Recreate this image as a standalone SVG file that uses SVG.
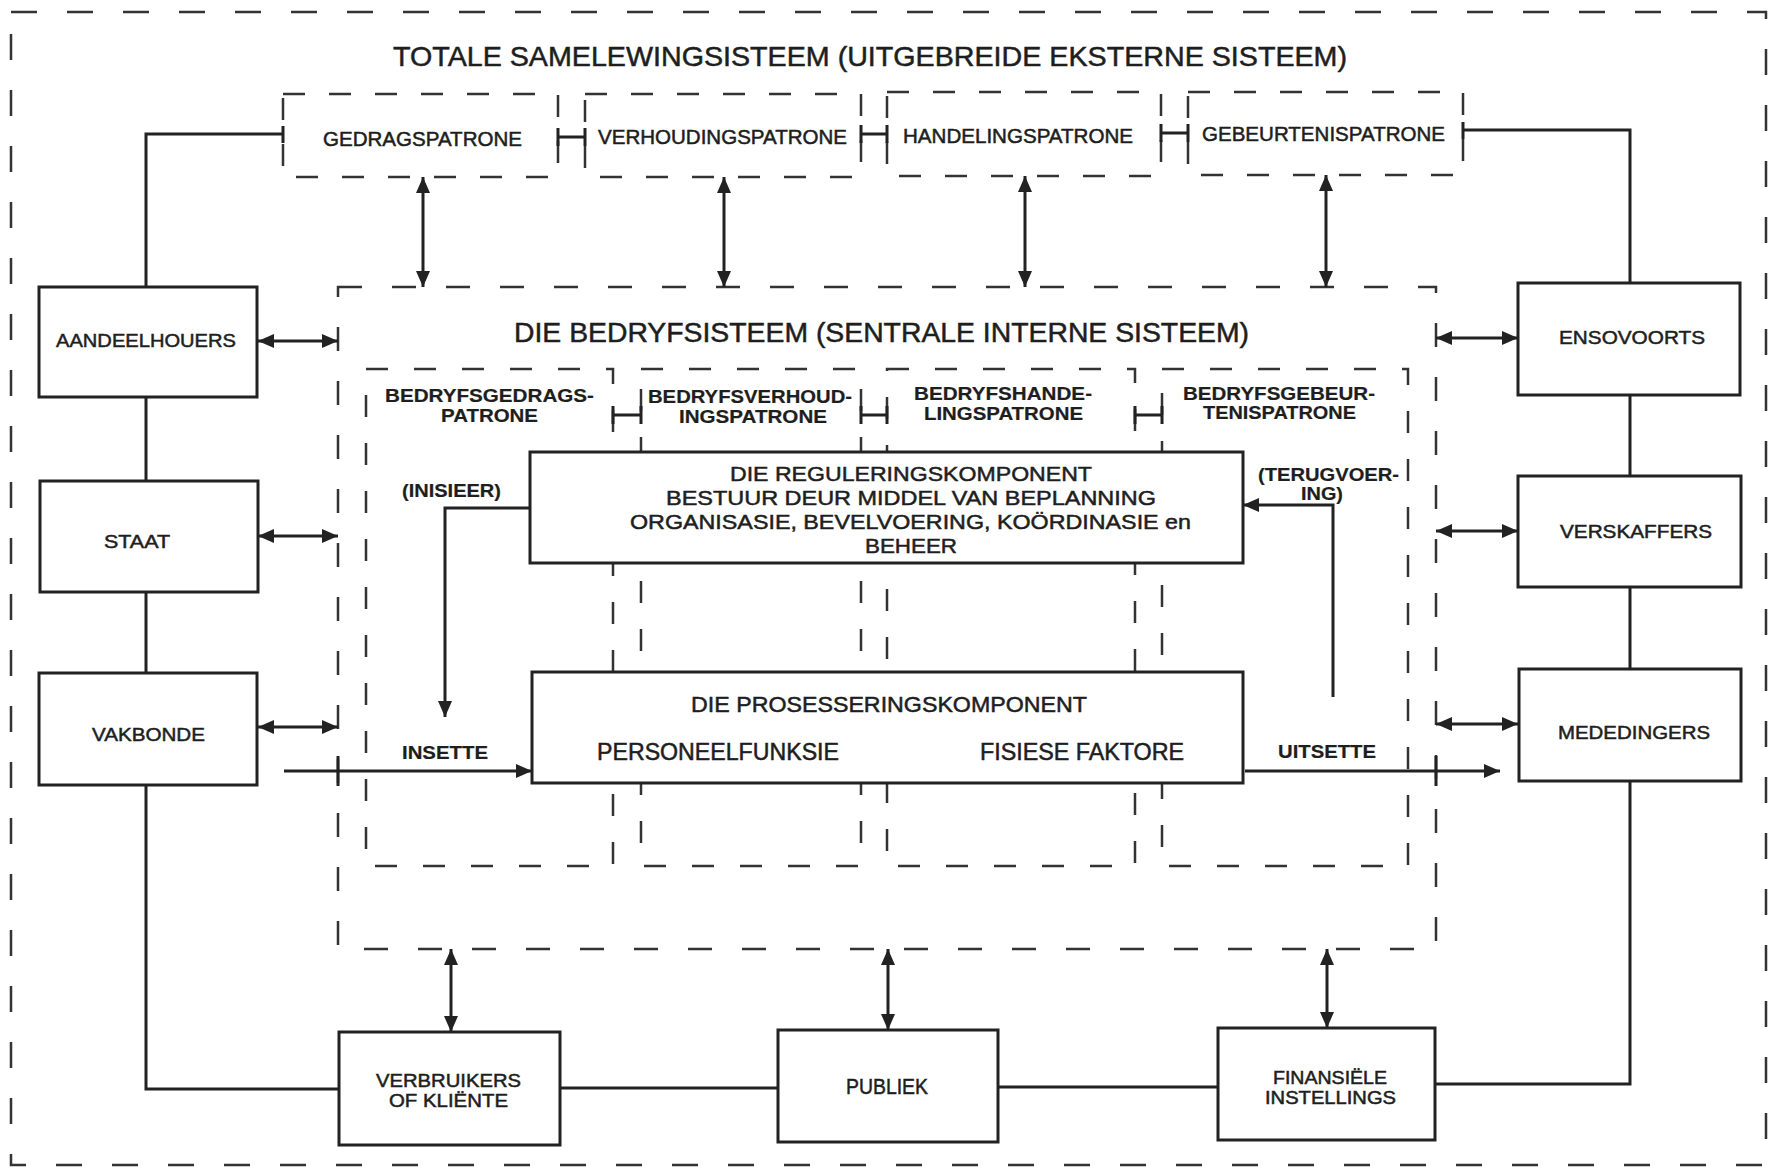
<svg xmlns="http://www.w3.org/2000/svg" width="1779" height="1169" viewBox="0 0 1779 1169">
<defs>
<marker id="ah" viewBox="0 0 16 14" refX="16" refY="7" markerWidth="16" markerHeight="14" markerUnits="userSpaceOnUse" orient="auto-start-reverse"><path d="M0,0 L16,7 L0,14 z" fill="#222"/></marker>
</defs>
<style>
.box{fill:#fff;stroke:#222;stroke-width:3}
.outer{fill:none;stroke:#333;stroke-width:2.5;stroke-dasharray:26 30}
.bed{fill:none;stroke:#333;stroke-width:2.5;stroke-dasharray:24 30}
.pat{fill:none;stroke:#333;stroke-width:2.5;stroke-dasharray:22 24}
.col{fill:none;stroke:#333;stroke-width:2.5;stroke-dasharray:22 26}
.ln{fill:none;stroke:#222;stroke-width:3}
.dbl{fill:none;stroke:#222;stroke-width:3;marker-start:url(#ah);marker-end:url(#ah)}
.one{fill:none;stroke:#222;stroke-width:3;marker-end:url(#ah)}
text{font-family:"Liberation Sans",Arial,sans-serif;fill:#1e1e1e;stroke:#1e1e1e;stroke-width:0.5}
.b{font-weight:bold;stroke-width:0.2}
</style>
<rect x="0" y="0" width="1779" height="1169" fill="#fff"/>

<g id="outer-system">
<rect class="outer" x="11" y="12" width="1755" height="1153"/>
<text x="393" y="66" font-size="28" textLength="954" lengthAdjust="spacingAndGlyphs">TOTALE SAMELEWINGSISTEEM (UITGEBREIDE EKSTERNE SISTEEM)</text>
</g>

<g id="bedryfsisteem">
<rect class="bed" x="338" y="287" width="1098" height="662"/>
<text x="514" y="342" font-size="28" textLength="735" lengthAdjust="spacingAndGlyphs">DIE BEDRYFSISTEEM (SENTRALE INTERNE SISTEEM)</text>
</g>

<g id="col-gedrag">
<rect class="col" x="366" y="369" width="247" height="497"/>
<text class="b" x="385" y="402" font-size="19" textLength="209" lengthAdjust="spacingAndGlyphs">BEDRYFSGEDRAGS-</text>
<text class="b" x="441" y="422" font-size="19" textLength="97" lengthAdjust="spacingAndGlyphs">PATRONE</text>
</g>
<g id="col-verhouding">
<rect class="col" x="641" y="369" width="220" height="497"/>
<text class="b" x="648" y="403" font-size="19" textLength="204" lengthAdjust="spacingAndGlyphs">BEDRYFSVERHOUD-</text>
<text class="b" x="679" y="423" font-size="19" textLength="148" lengthAdjust="spacingAndGlyphs">INGSPATRONE</text>
</g>
<g id="col-handeling">
<rect class="col" x="887" y="369" width="248" height="497"/>
<text class="b" x="914" y="400" font-size="19" textLength="178" lengthAdjust="spacingAndGlyphs">BEDRYFSHANDE-</text>
<text class="b" x="924" y="420" font-size="19" textLength="159" lengthAdjust="spacingAndGlyphs">LINGSPATRONE</text>
</g>
<g id="col-gebeurtenis">
<rect class="col" x="1162" y="369" width="246" height="497"/>
<text class="b" x="1183" y="400" font-size="19" textLength="192" lengthAdjust="spacingAndGlyphs">BEDRYFSGEBEUR-</text>
<text class="b" x="1203" y="419" font-size="19" textLength="153" lengthAdjust="spacingAndGlyphs">TENISPATRONE</text>
</g>

<g id="pat-gedrag">
<rect class="pat" x="283" y="94" width="275" height="83"/>
<text x="323" y="146" font-size="20" textLength="199" lengthAdjust="spacingAndGlyphs">GEDRAGSPATRONE</text>
</g>
<g id="pat-verhouding">
<rect class="pat" x="585" y="94" width="276" height="83"/>
<text x="598" y="144" font-size="20" textLength="249" lengthAdjust="spacingAndGlyphs">VERHOUDINGSPATRONE</text>
</g>
<g id="pat-handeling">
<rect class="pat" x="887" y="92" width="274" height="84"/>
<text x="903" y="143" font-size="20" textLength="230" lengthAdjust="spacingAndGlyphs">HANDELINGSPATRONE</text>
</g>
<g id="pat-gebeurtenis">
<rect class="pat" x="1188" y="92" width="275" height="83"/>
<text x="1202" y="141" font-size="20" textLength="243" lengthAdjust="spacingAndGlyphs">GEBEURTENISPATRONE</text>
</g>

<g id="connectors">
<path class="ln" d="M283,134 H146 V1089 H339"/>
<path class="ln" d="M1463,130 H1630 V1084 H1435"/>
<path class="ln" d="M560,1088 H778"/>
<path class="ln" d="M998,1087 H1218"/>
<path class="ln" d="M558,137 H585 M861,134 H887 M1161,133 H1188"/>
<path class="ln" d="M283,126 V143 M558,128 V146 M585,128 V146 M861,125 V143 M887,125 V143 M1161,124 V142 M1188,124 V142 M1463,122 V139"/>
<path class="ln" d="M613,415 H641 M861,415 H887 M1135,415 H1162"/>
<path class="ln" d="M613,406 V424 M641,406 V424 M861,406 V424 M887,406 V424 M1135,406 V424 M1162,406 V424"/>
<path class="dbl" d="M423,177 V287"/>
<path class="dbl" d="M724,177 V287"/>
<path class="dbl" d="M1025,176 V287"/>
<path class="dbl" d="M1326,175 V287"/>
<path class="dbl" d="M258,341 H338"/>
<path class="dbl" d="M258,536 H338"/>
<path class="dbl" d="M258,727 H338"/>
<path class="dbl" d="M1436,338 H1518"/>
<path class="dbl" d="M1436,531 H1518"/>
<path class="dbl" d="M1436,724 H1518"/>
<path class="dbl" d="M451,949 V1032"/>
<path class="dbl" d="M888,949 V1030"/>
<path class="dbl" d="M1327,949 V1028"/>
<path class="one" d="M530,508 H445 V717"/>
<path class="one" d="M1333,697 V505 H1243"/>
<path class="one" d="M284,771 H532"/>
<path class="one" d="M1245,771 H1500"/>
<path class="ln" d="M338,756 V786 M1436,756 V786"/>
</g>

<g id="labels">
<text class="b" x="402" y="497" font-size="19" textLength="99" lengthAdjust="spacingAndGlyphs">(INISIEER)</text>
<text class="b" x="1258" y="481" font-size="19" textLength="141" lengthAdjust="spacingAndGlyphs">(TERUGVOER-</text>
<text class="b" x="1301" y="500" font-size="19" textLength="42" lengthAdjust="spacingAndGlyphs">ING)</text>
<text class="b" x="402" y="759" font-size="19" textLength="86" lengthAdjust="spacingAndGlyphs">INSETTE</text>
<text class="b" x="1278" y="758" font-size="19" textLength="98" lengthAdjust="spacingAndGlyphs">UITSETTE</text>
</g>

<g id="regulering">
<rect class="box" x="530" y="452" width="713" height="111"/>
<text x="730" y="481" font-size="21" textLength="362" lengthAdjust="spacingAndGlyphs">DIE REGULERINGSKOMPONENT</text>
<text x="666" y="505" font-size="21" textLength="490" lengthAdjust="spacingAndGlyphs">BESTUUR DEUR MIDDEL VAN BEPLANNING</text>
<text x="630" y="529" font-size="21" textLength="561" lengthAdjust="spacingAndGlyphs">ORGANISASIE, BEVELVOERING, KOÖRDINASIE en</text>
<text x="865" y="553" font-size="21" textLength="92" lengthAdjust="spacingAndGlyphs">BEHEER</text>
</g>

<g id="prosessering">
<rect class="box" x="532" y="672" width="711" height="111"/>
<text x="691" y="712" font-size="22" textLength="396" lengthAdjust="spacingAndGlyphs">DIE PROSESSERINGSKOMPONENT</text>
<text x="597" y="760" font-size="23" textLength="242" lengthAdjust="spacingAndGlyphs">PERSONEELFUNKSIE</text>
<text x="980" y="760" font-size="23" textLength="204" lengthAdjust="spacingAndGlyphs">FISIESE FAKTORE</text>
</g>

<g id="aandeelhouers">
<rect class="box" x="39" y="287" width="218" height="110"/>
<text x="56" y="347" font-size="19" textLength="180" lengthAdjust="spacingAndGlyphs">AANDEELHOUERS</text>
</g>
<g id="staat">
<rect class="box" x="40" y="481" width="218" height="111"/>
<text x="104" y="548" font-size="19" textLength="66" lengthAdjust="spacingAndGlyphs">STAAT</text>
</g>
<g id="vakbonde">
<rect class="box" x="39" y="673" width="218" height="112"/>
<text x="92" y="741" font-size="19" textLength="113" lengthAdjust="spacingAndGlyphs">VAKBONDE</text>
</g>
<g id="ensovoorts">
<rect class="box" x="1518" y="283" width="222" height="112"/>
<text x="1559" y="344" font-size="19" textLength="146" lengthAdjust="spacingAndGlyphs">ENSOVOORTS</text>
</g>
<g id="verskaffers">
<rect class="box" x="1518" y="476" width="223" height="111"/>
<text x="1560" y="538" font-size="19" textLength="152" lengthAdjust="spacingAndGlyphs">VERSKAFFERS</text>
</g>
<g id="mededingers">
<rect class="box" x="1519" y="669" width="222" height="112"/>
<text x="1558" y="739" font-size="19" textLength="152" lengthAdjust="spacingAndGlyphs">MEDEDINGERS</text>
</g>
<g id="verbruikers">
<rect class="box" x="339" y="1032" width="221" height="113"/>
<text x="376" y="1087" font-size="19" textLength="145" lengthAdjust="spacingAndGlyphs">VERBRUIKERS</text>
<text x="389" y="1107" font-size="19" textLength="119" lengthAdjust="spacingAndGlyphs">OF KLIËNTE</text>
</g>
<g id="publiek">
<rect class="box" x="778" y="1030" width="220" height="112"/>
<text x="846" y="1094" font-size="22" textLength="82" lengthAdjust="spacingAndGlyphs">PUBLIEK</text>
</g>
<g id="finansiele">
<rect class="box" x="1218" y="1028" width="217" height="112"/>
<text x="1273" y="1084" font-size="18" textLength="114" lengthAdjust="spacingAndGlyphs">FINANSIËLE</text>
<text x="1265" y="1104" font-size="18" textLength="131" lengthAdjust="spacingAndGlyphs">INSTELLINGS</text>
</g>
</svg>
